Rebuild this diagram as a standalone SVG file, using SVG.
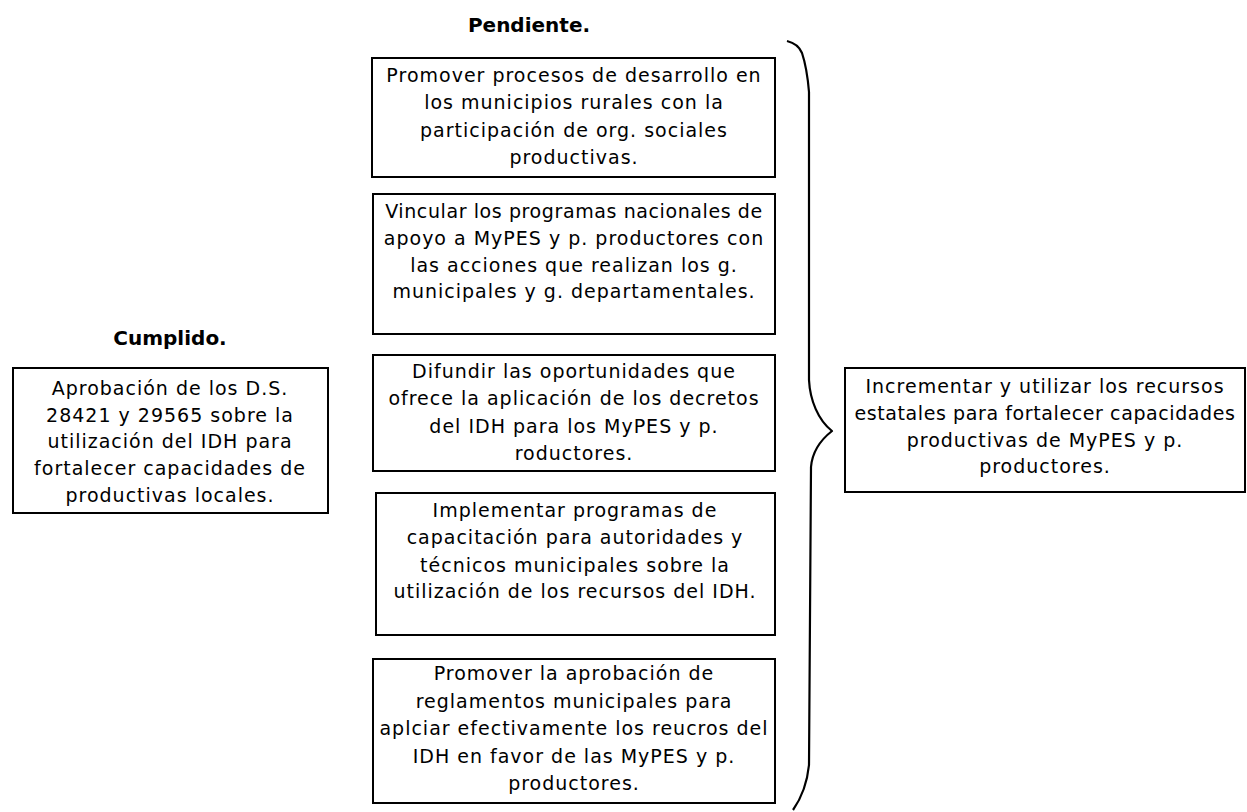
<svg xmlns="http://www.w3.org/2000/svg" width="1247" height="812" viewBox="0 0 1247 812">
<style>
.box{fill:#fff;stroke:#000;stroke-width:2}
.t{font-family:"DejaVu Sans",Verdana,sans-serif;font-size:19px;letter-spacing:1px;fill:#000;text-anchor:middle}
.n{letter-spacing:0.6px}
.h{font-family:"DejaVu Sans",Verdana,sans-serif;font-size:20px;font-weight:bold;fill:#000;text-anchor:middle}
.brace{fill:none;stroke:#000;stroke-width:2.2;stroke-linejoin:round}
</style>
<rect width="1247" height="812" fill="#fff"/>
<text class="h" x="529" y="32">Pendiente.</text>
<text class="h" x="170" y="345">Cumplido.</text>
<g id="cumplido">
<rect class="box" x="13" y="368" width="315" height="145"/>
<text class="t" x="170" y="395">Aprobación de los D.S.</text>
<text class="t" x="170" y="422">28421 y 29565  sobre la</text>
<text class="t" x="170" y="448">utilización del IDH para</text>
<text class="t" x="170" y="475">fortalecer capacidades de</text>
<text class="t" x="170" y="502">productivas locales.</text>
</g>
<g id="p1">
<rect class="box" x="372" y="58" width="403" height="119"/>
<text class="t" x="574" y="82">Promover procesos de desarrollo en</text>
<text class="t" x="574" y="109">los municipios rurales con la</text>
<text class="t" x="574" y="137">participación de org. sociales</text>
<text class="t" x="574" y="164">productivas.</text>
</g>
<g id="p2">
<rect class="box" x="373" y="194" width="402" height="140"/>
<text class="t n" x="574" y="218">Vincular los programas nacionales de</text>
<text class="t" x="574" y="245">apoyo a MyPES y p. productores con</text>
<text class="t" x="574" y="272">las acciones que realizan los g.</text>
<text class="t" x="574" y="298">municipales y g. departamentales.</text>
</g>
<g id="p3">
<rect class="box" x="373" y="355" width="402" height="116"/>
<text class="t" x="574" y="378">Difundir las oportunidades que</text>
<text class="t" x="574" y="405">ofrece la aplicación de los decretos</text>
<text class="t" x="574" y="433">del IDH para los MyPES y p.</text>
<text class="t" x="574" y="460">roductores.</text>
</g>
<g id="p4">
<rect class="box" x="376" y="493" width="399" height="142"/>
<text class="t" x="575" y="517">Implementar programas de</text>
<text class="t" x="575" y="544">capacitación para autoridades y</text>
<text class="t" x="575" y="572">técnicos municipales sobre la</text>
<text class="t" x="575" y="598">utilización de los recursos del IDH.</text>
</g>
<g id="p5">
<rect class="box" x="373" y="659" width="402" height="144"/>
<text class="t" x="574" y="680">Promover la aprobación de</text>
<text class="t" x="574" y="708">reglamentos municipales para</text>
<text class="t" x="574" y="735">aplciar efectivamente los reucros del</text>
<text class="t" x="574" y="763">IDH en favor de las MyPES y p.</text>
<text class="t" x="574" y="790">productores.</text>
</g>
<g id="objetivo">
<rect class="box" x="845" y="368" width="400" height="124"/>
<text class="t" x="1045" y="393">Incrementar y utilizar los recursos</text>
<text class="t n" x="1045" y="420">estatales para fortalecer capacidades</text>
<text class="t" x="1045" y="447">productivas de MyPES y p.</text>
<text class="t" x="1045" y="473">productores.</text>
</g>
<g id="connectors">
<path class="brace" d="M787,41 C795,43 800,48 802,53 C806,65 808,80 809,92 L809,380 C810,400 818,420 832,431 C818,442 812,455 811,467 L809,765 C807,785 800,800 793,810"/>
</g>
</svg>
